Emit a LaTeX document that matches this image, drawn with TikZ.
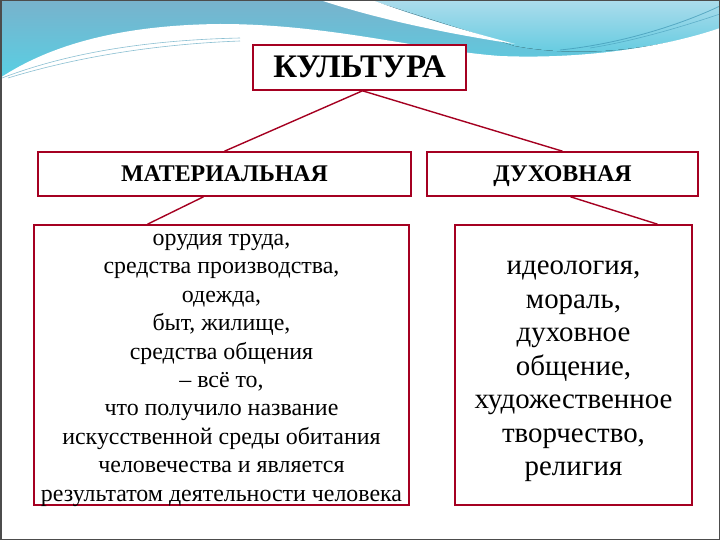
\documentclass[tikz,border=0pt]{standalone}
\usepackage{fontspec}
\setmainfont{Liberation Serif}
\newfontfamily\slidefont{Liberation Serif}
\usetikzlibrary{shadows}
\definecolor{boxred}{RGB}{165,0,33}
\definecolor{bandtop}{RGB}{120,178,204}
\definecolor{bandlow}{RGB}{88,208,228}
\definecolor{bandlight}{RGB}{172,220,236}
\definecolor{bandline}{RGB}{62,150,180}
\tikzset{
	framebox/.style={draw=boxred, line width=1.6bp, fill=white,
		drop shadow={shadow xshift=1.2bp, shadow yshift=-1.2bp, opacity=0.45, fill=black!70}},
	headbox/.style={framebox, font=\slidefont\bfseries\fontsize{24}{28}\selectfont,
		text height=16bp, text depth=0bp},
	listbox/.style={framebox, inner sep=0bp},
	link/.style={boxred, line width=1.4bp},
}
% lines of a list box; #1 lifts the first baseline above the box centre
\newcommand\listlines[2]{\raisebox{#1}[0pt][0pt]{\begin{tabular}[t]{@{}c@{}}#2\end{tabular}}}
\begin{document}
\begin{tikzpicture}[x=1bp,y=-1bp]
		\useasboundingbox (0,0) rectangle (720,540);
		% slide header band
		\fill[top color=bandtop, bottom color=bandlow] (0,0) rectangle (720,80);
		\fill[top color=bandlight, bottom color=bandlow!80!bandtop]
			(370,0) -- (720,0) -- (720,30) .. controls (650,50) and (580,58) .. (515,46) -- cycle;
		\fill[white] (320,0) -- (372,0) .. controls (420,18) and (470,32) .. (515,44)
			.. controls (450,34) and (380,20) .. (320,0) -- cycle;
		\fill[white] (0,80) -- (0,78) .. controls (50,45) and (120,25) .. (220,24)
			.. controls (330,24) and (420,50) .. (500,56)
			.. controls (600,60) and (680,42) .. (720,28) -- (720,540) -- (0,540) -- cycle;
		\draw[bandline, line width=0.6bp, opacity=0.6]
			(2,78) .. controls (70,52) and (150,40) .. (240,38);
		\draw[bandline, line width=0.6bp, opacity=0.6]
			(8,78) .. controls (80,56) and (160,44) .. (240,41);
		\draw[bandline, line width=0.8bp, opacity=0.7]
			(560,50) .. controls (620,44) and (680,25) .. (720,6);
		\draw[bandline, line width=0.6bp, opacity=0.6]
			(590,48) .. controls (640,40) and (690,24) .. (720,14);
		\draw[black!70, line width=1.5bp] (0.75,0.75) rectangle (719.25,539.25);
		% boxes
		\path
			(359.5, 67.5) node[headbox, minimum width=213bp, minimum height=45bp,
				font=\slidefont\bfseries\fontsize{33}{38}\selectfont, text height=21bp] (culture) {КУЛЬТУРА}
			(224.5,174)   node[headbox, minimum width=373bp, minimum height=44bp] (material)  {МАТЕРИАЛЬНАЯ}
			(562.5,174)   node[headbox, minimum width=271bp, minimum height=44bp] (spiritual) {ДУХОВНАЯ}
			(221.5,365)   node[listbox, minimum width=375bp, minimum height=280bp,
				font=\slidefont\fontsize{24}{28.5}\selectfont] (matlist)
				{\listlines{119.5bp}{орудия труда,\\ средства производства,\\ одежда,\\ быт, жилище,\\
				 средства общения\\ – всё то,\\ что получило название\\ искусственной среды обитания\\
				 человечества и является\\ результатом деятельности человека}}
			(573.5,365)   node[listbox, minimum width=237bp, minimum height=280bp,
				font=\slidefont\fontsize{29}{33.7}\selectfont] (spirlist)
				{\listlines{90.5bp}{идеология,\\ мораль,\\ духовное\\ общение,\\ художественное\\
				 творчество,\\ религия}}
		;
		\draw[link] ([xshift=3bp]culture.south)   -- (material.north);
		\draw[link] ([xshift=3bp]culture.south)   -- (spiritual.north);
		\draw[link] ([xshift=-21bp]material.south) -- ([xshift=-74bp]matlist.north);
		\draw[link] ([xshift=8bp]spiritual.south)  -- ([xshift=84bp]spirlist.north);
	\end{tikzpicture}
\end{document}
